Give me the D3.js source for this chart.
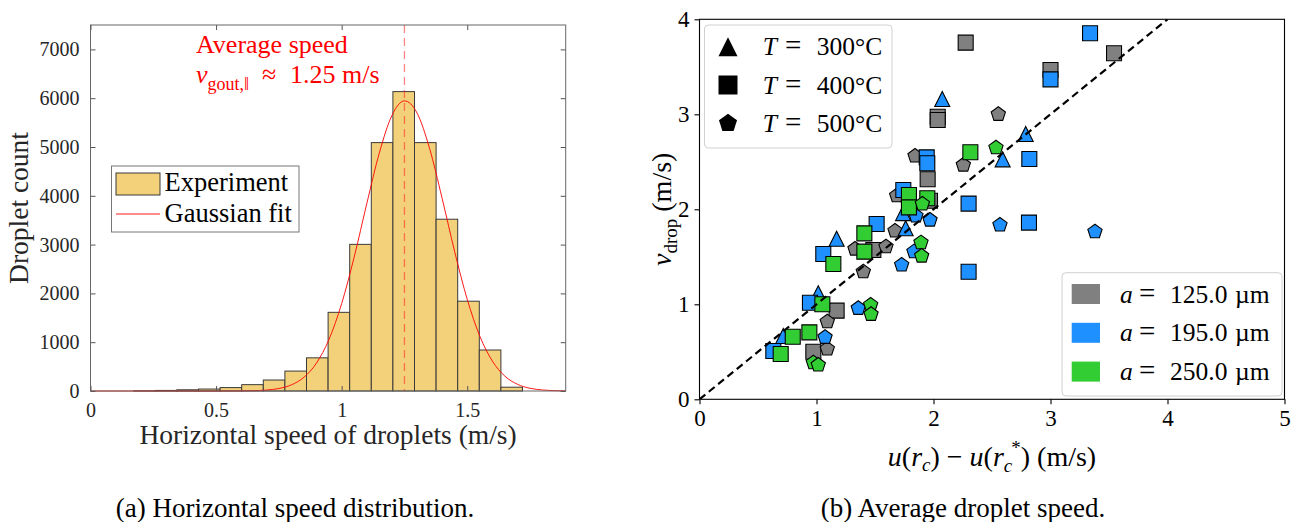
<!DOCTYPE html>
<html>
<head>
<meta charset="utf-8">
<script src="https://cdn.jsdelivr.net/npm/d3@7"></script>
<style>
  body { margin: 0; background: #fff; }
  text { font-family: "Liberation Serif", "Times New Roman", serif; }
</style>
</head>
<body>
<svg id="fig" width="1301" height="522"></svg>
<script>
// ---------- (a) histogram data ----------
const binEdges = [0, 0.086, 0.172, 0.258, 0.344, 0.43, 0.516, 0.602, 0.688, 0.774, 0.86,
  0.946, 1.032, 1.118, 1.204, 1.29, 1.376, 1.462, 1.548, 1.634, 1.72, 1.806, 1.892];
const dropletCounts = [0, 0, 3, 12, 25, 40, 70, 130, 225, 408, 680,
  1612, 3005, 5090, 6135, 5090, 3520, 1840, 840, 78, 0, 0];

// gaussian fit
const fitSpeed = [0, 0.40, 0.50, 0.60, 0.65, 0.70, 0.75, 0.80, 0.85, 0.90, 0.95, 1.00, 1.05, 1.10,
  1.15, 1.20, 1.25, 1.30, 1.35, 1.40, 1.45, 1.50, 1.55, 1.60, 1.65, 1.70, 1.75, 1.80, 1.85, 1.892];
const fitCount = [0, 0, 0, 2, 6, 19, 51, 126, 282, 574, 1062, 1791, 2748, 3838,
  4879, 5645, 5945, 5698, 4971, 3948, 2854, 1877, 1124, 613, 304, 137, 56, 21, 7, 3];

const averageSpeed = 1.25;
const histXTicks = [0, 0.5, 1, 1.5];
const histYTicks = [0, 1000, 2000, 3000, 4000, 5000, 6000, 7000];

// ---------- (b) scatter data: [u(rc)-u(rc*), v_drop] ----------
const a125_T400 = [[2.275, 3.754], [3.0, 3.466], [2.036, 2.975], [2.036, 2.94], [3.543, 3.642],
  [1.95, 2.316], [1.97, 2.09], [1.486, 1.572], [1.172, 0.933], [0.973, 0.501]];
const a125_T500 = [[2.554, 3.0], [1.842, 2.561], [2.255, 2.466], [1.685, 2.143], [1.671, 1.772],
  [1.329, 1.582], [1.594, 1.606], [1.40, 1.343], [1.092, 0.817], [1.092, 0.53]];
const a195_T300 = [[2.075, 3.161], [2.788, 2.793], [2.591, 2.526], [1.762, 1.80], [1.172, 1.69],
  [1.015, 1.116], [0.716, 0.666], [1.74, 1.96]];
const a195_T400 = [[3.338, 3.853], [3.0, 3.368], [2.819, 2.529], [2.30, 2.06], [2.30, 1.343],
  [2.816, 1.86], [1.942, 2.547], [1.947, 2.484], [1.742, 2.203], [1.514, 1.845],
  [1.058, 1.53], [0.944, 1.017], [0.631, 0.508]];
const a195_T500 = [[3.38, 1.764], [2.568, 1.835], [1.85, 1.93], [1.97, 1.887], [1.833, 1.554],
  [1.728, 1.414], [1.357, 0.958], [1.073, 0.653]];
const a250_T400 = [[2.315, 2.6], [1.79, 2.15], [1.79, 2.02], [1.947, 2.116], [1.409, 1.747],
  [1.409, 1.554], [1.144, 1.424], [1.05, 1.0], [0.939, 0.705], [0.797, 0.659], [0.694, 0.477]];
const a250_T500 = [[2.534, 2.648], [1.905, 2.056], [1.893, 1.649], [1.899, 1.508],
  [1.463, 0.993], [1.466, 0.895], [0.973, 0.385], [1.015, 0.361]];

const radii = ["125.0", "195.0", "250.0"];
const temperatures = ["300", "400", "500"];
const scatterXTicks = [0, 1, 2, 3, 4, 5];
const scatterYTicks = [0, 1, 2, 3, 4];
const refLine = [[0, 0], [4, 4]];

const radiusColor = { "125.0": "#808080", "195.0": "#1e90ff", "250.0": "#32cd32" };

// draw order: by radius, then shape
const series = [
  { a: "125.0", T: "400", pts: a125_T400 },
  { a: "125.0", T: "500", pts: a125_T500 },
  { a: "195.0", T: "300", pts: a195_T300 },
  { a: "195.0", T: "400", pts: a195_T400 },
  { a: "195.0", T: "500", pts: a195_T500 },
  { a: "250.0", T: "400", pts: a250_T400 },
  { a: "250.0", T: "500", pts: a250_T500 }
];

// marker shapes in matplotlib style (size = width^2)
const symTriangle = { draw(ctx, size) {
  const h = Math.sqrt(size) / 2;
  ctx.moveTo(0, -h); ctx.lineTo(h, h); ctx.lineTo(-h, h); ctx.closePath();
}};
const symPentagon = { draw(ctx, size) {
  const r = Math.sqrt(size) / 2;
  for (let k = 0; k < 5; k++) {
    const ang = -Math.PI / 2 + k * 2 * Math.PI / 5;
    if (k === 0) ctx.moveTo(r * Math.cos(ang), r * Math.sin(ang));
    else ctx.lineTo(r * Math.cos(ang), r * Math.sin(ang));
  }
  ctx.closePath();
}};
const shapeOf = { "300": symTriangle, "400": d3.symbolSquare, "500": symPentagon };

const svg = d3.select("#fig");
svg.append("rect").attr("width", 1301).attr("height", 522).attr("fill", "#fff");

// ======================= (a) =======================
const hx = d3.scaleLinear([0, 1.892], [90.5, 565.7]);
const hy = d3.scaleLinear([0, 7500], [391, 25]);
const gA = svg.append("g");

gA.append("g").selectAll("rect")
  .data(dropletCounts)
  .join("rect")
  .attr("x", (d, i) => hx(binEdges[i]))
  .attr("width", (d, i) => hx(binEdges[i + 1]) - hx(binEdges[i]))
  .attr("y", d => hy(d))
  .attr("height", d => hy(0) - hy(d))
  .attr("fill", "#f3d17a")
  .attr("stroke", "#3a3a3a")
  .attr("stroke-width", 1);

// average speed marker
gA.append("line")
  .attr("x1", hx(averageSpeed)).attr("x2", hx(averageSpeed))
  .attr("y1", hy(7500)).attr("y2", hy(0))
  .attr("stroke", "#ff2020").attr("stroke-opacity", 0.55)
  .attr("stroke-width", 1.3).attr("stroke-dasharray", "8,5");

// gaussian fit
gA.append("path")
  .datum(fitSpeed.map((s, i) => [s, fitCount[i]]))
  .attr("fill", "none")
  .attr("stroke", "#ff0000")
  .attr("stroke-width", 0.9)
  .attr("d", d3.line().x(d => hx(d[0])).y(d => hy(d[1])).curve(d3.curveMonotoneX));

// axes with inward ticks on all four sides
function styleAxis(g, size) {
  g.select(".domain").remove();
  g.selectAll(".tick line").attr("stroke", "#555");
  g.selectAll(".tick text").attr("fill", "#262626")
    .style("font-size", size + "px")
    .style("font-family", '"Liberation Serif", serif');
}
gA.append("g").attr("transform", `translate(0,${hy(0)})`)
  .call(d3.axisBottom(hx).tickValues(histXTicks).tickSize(-5).tickPadding(12).tickFormat(d => String(d)))
  .call(g => styleAxis(g, 20));
gA.append("g").attr("transform", `translate(0,${hy(7500)})`)
  .call(d3.axisTop(hx).tickValues(histXTicks).tickSize(-5).tickFormat(""))
  .call(g => styleAxis(g, 20));
gA.append("g").attr("transform", `translate(${hx(0)},0)`)
  .call(d3.axisLeft(hy).tickValues(histYTicks).tickSize(-5).tickPadding(11).tickFormat(d => String(d)))
  .call(g => styleAxis(g, 20));
gA.append("g").attr("transform", `translate(${hx(1.892)},0)`)
  .call(d3.axisRight(hy).tickValues(histYTicks).tickSize(-5).tickFormat(""))
  .call(g => styleAxis(g, 20));
gA.append("rect")
  .attr("x", hx(0)).attr("y", hy(7500))
  .attr("width", hx(1.892) - hx(0)).attr("height", hy(0) - hy(7500))
  .attr("fill", "none").attr("stroke", "#666").attr("stroke-width", 1);

gA.append("text")
  .attr("x", (hx(0) + hx(1.892)) / 2).attr("y", 444)
  .attr("text-anchor", "middle").attr("fill", "#262626")
  .style("font-size", "27.5px")
  .text("Horizontal speed of droplets (m/s)");
gA.append("text")
  .attr("transform", `translate(28,${(hy(0) + hy(7500)) / 2}) rotate(-90)`)
  .attr("text-anchor", "middle").attr("fill", "#262626")
  .style("font-size", "27.5px")
  .text("Droplet count");

// annotation
gA.append("text").attr("x", 196).attr("y", 53).attr("fill", "#ff0000")
  .style("font-size", "26px").text("Average speed");
const ann = gA.append("text").attr("x", 196).attr("y", 83).attr("fill", "#ff0000")
  .style("font-size", "26px");
ann.append("tspan").style("font-style", "italic").text("v");
ann.append("tspan").attr("dy", 7).style("font-size", "18px").text("gout,\u2016");
ann.append("tspan").attr("dy", -7).attr("x", 262).text("\u2248");
ann.append("tspan").attr("x", 290).text("1.25 m/s");

// legend
const legA = gA.append("g");
legA.append("rect").attr("x", 111.5).attr("y", 166).attr("width", 187.5).attr("height", 66)
  .attr("fill", "#fff").attr("stroke", "#777").attr("stroke-width", 1);
legA.append("rect").attr("x", 116).attr("y", 173).attr("width", 44).attr("height", 22)
  .attr("fill", "#f3d17a").attr("stroke", "#3a3a3a");
legA.append("line").attr("x1", 116).attr("x2", 160).attr("y1", 214).attr("y2", 214)
  .attr("stroke", "#ff0000").attr("stroke-width", 0.9);
legA.append("text").attr("x", 164.5).attr("y", 191).attr("fill", "#000")
  .style("font-size", "26.5px").text("Experiment");
legA.append("text").attr("x", 164.5).attr("y", 222).attr("fill", "#000")
  .style("font-size", "26.5px").text("Gaussian fit");

svg.append("text").attr("x", 295).attr("y", 517).attr("text-anchor", "middle")
  .style("font-size", "27px").text("(a) Horizontal speed distribution.");

// ======================= (b) =======================
const sx = d3.scaleLinear([0, 5], [699.5, 1284.5]);
const sy = d3.scaleLinear([0, 4], [399.3, 19.3]);
const gB = svg.append("g");

gB.append("defs").append("clipPath").attr("id", "clipB")
  .append("rect").attr("x", sx(0)).attr("y", sy(4))
  .attr("width", sx(5) - sx(0)).attr("height", sy(0) - sy(4));

const plotB = gB.append("g").attr("clip-path", "url(#clipB)");

series.forEach(s => {
  plotB.append("g").selectAll("path")
    .data(s.pts)
    .join("path")
    .attr("transform", d => `translate(${sx(d[0])},${sy(d[1])})`)
    .attr("d", d3.symbol().type(shapeOf[s.T]).size(15 * 15))
    .attr("fill", radiusColor[s.a])
    .attr("stroke", "#000")
    .attr("stroke-width", 1.1);
});

plotB.append("path")
  .datum(refLine)
  .attr("fill", "none").attr("stroke", "#000")
  .attr("stroke-width", 2.2).attr("stroke-dasharray", "7.5,4.5")
  .attr("d", d3.line().x(d => sx(d[0])).y(d => sy(d[1])));

function styleAxisB(g) {
  g.select(".domain").remove();
  g.selectAll(".tick line").attr("stroke", "#000").attr("stroke-width", 1.1);
  g.selectAll(".tick text").attr("fill", "#000")
    .style("font-size", "23px")
    .style("font-family", '"Liberation Serif", serif');
}
gB.append("g").attr("transform", `translate(0,${sy(0)})`)
  .call(d3.axisBottom(sx).tickValues(scatterXTicks).tickSize(5).tickPadding(5).tickFormat(d => String(d)))
  .call(styleAxisB);
gB.append("g").attr("transform", `translate(${sx(0)},0)`)
  .call(d3.axisLeft(sy).tickValues(scatterYTicks).tickSize(5).tickPadding(5).tickFormat(d => String(d)))
  .call(styleAxisB);
gB.append("rect")
  .attr("x", sx(0)).attr("y", sy(4))
  .attr("width", sx(5) - sx(0)).attr("height", sy(0) - sy(4))
  .attr("fill", "none").attr("stroke", "#000").attr("stroke-width", 1.1);

// x label: u(r_c) − u(r_c^*) (m/s)
const xl = gB.append("text").attr("x", (sx(0) + sx(5)) / 2).attr("y", 466)
  .attr("text-anchor", "middle").style("font-size", "28px");
xl.append("tspan").style("font-style", "italic").text("u");
xl.append("tspan").text("(");
xl.append("tspan").style("font-style", "italic").text("r");
xl.append("tspan").attr("dy", 5).style("font-size", "19px").style("font-style", "italic").text("c");
xl.append("tspan").attr("dy", -5).text(") \u2212 ");
xl.append("tspan").style("font-style", "italic").text("u");
xl.append("tspan").text("(");
xl.append("tspan").style("font-style", "italic").text("r");
xl.append("tspan").attr("dy", 6).style("font-size", "19px").style("font-style", "italic").text("c");
xl.append("tspan").attr("dy", -18).attr("dx", -1).style("font-size", "19px").text("*");
xl.append("tspan").attr("dy", 12).text(") (m/s)");

const yl = gB.append("text")
  .attr("transform", `translate(671,${(sy(0) + sy(4)) / 2}) rotate(-90)`)
  .attr("text-anchor", "middle").style("font-size", "28px");
yl.append("tspan").style("font-style", "italic").text("v");
yl.append("tspan").attr("dy", 6).style("font-size", "19px").text("drop");
yl.append("tspan").attr("dy", -6).text(" (m/s)");

// legend: temperature (shape)
const legT = gB.append("g");
legT.append("rect").attr("x", 704.5).attr("y", 25).attr("width", 187.5).attr("height", 123)
  .attr("rx", 4).attr("fill", "#fff").attr("fill-opacity", 0.8)
  .attr("stroke", "#d0d0d0").attr("stroke-width", 1);
temperatures.forEach((t, i) => {
  const cy = 46.7 + i * 38.3;
  legT.append("path")
    .attr("transform", `translate(728,${cy})`)
    .attr("d", d3.symbol().type(shapeOf[t]).size(19 * 19))
    .attr("fill", "#000");
  const tx = legT.append("text").attr("y", cy + 8.5).style("font-size", "25.5px");
  tx.append("tspan").attr("x", 762.7).style("font-style", "italic").text("T");
  tx.append("tspan").attr("x", 785).style("font-size", "29px").text("=");
  tx.append("tspan").attr("x", 816.7).text(t + "\u00b0C");
});

// legend: radius (colour)
const legR = gB.append("g");
legR.append("rect").attr("x", 1062).attr("y", 272.7).attr("width", 220).attr("height", 123.3)
  .attr("rx", 4).attr("fill", "#fff").attr("fill-opacity", 0.8)
  .attr("stroke", "#d0d0d0").attr("stroke-width", 1);
radii.forEach((a, i) => {
  const cy = 294 + i * 38.8;
  legR.append("rect").attr("x", 1071.7).attr("y", cy - 10).attr("width", 28.3).attr("height", 20)
    .attr("fill", radiusColor[a]);
  const tx = legR.append("text").attr("y", cy + 8.5).style("font-size", "25.5px");
  tx.append("tspan").attr("x", 1120).style("font-style", "italic").text("a");
  tx.append("tspan").attr("x", 1139).style("font-size", "29px").text("=");
  tx.append("tspan").attr("x", 1170).text(a);
  tx.append("tspan").attr("x", 1235).text("\u00b5m");
});

svg.append("text").attr("x", 963).attr("y", 517).attr("text-anchor", "middle")
  .style("font-size", "27px").text("(b) Average droplet speed.");
</script>
</body>
</html>
